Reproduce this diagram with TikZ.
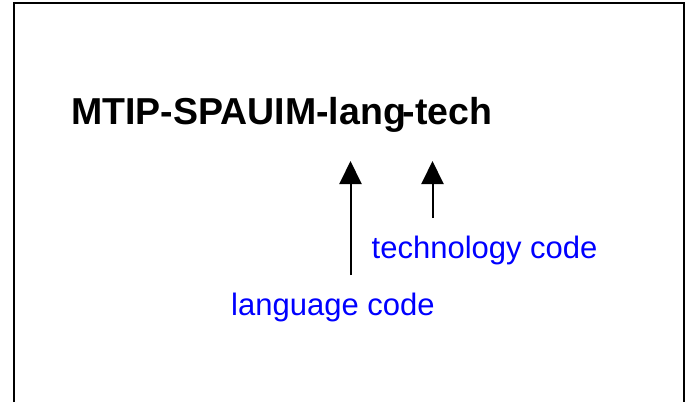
\documentclass[tikz,border=0pt]{standalone}
\usepackage{fontspec}
\setmainfont{Liberation Sans}
\usetikzlibrary{arrows.meta}

\begin{document}
\begin{tikzpicture}[x=1bp, y=-1bp,
    codelabel/.style={blue, anchor=base west, inner sep=0pt, font=\fontsize{31bp}{34bp}\selectfont},
    pointer/.style={line width=2bp, -{Triangle[width=22bp, length=23bp]}}]
    \useasboundingbox (0,0) rectangle (686,402);

    % Frame (open at the bottom)
    \draw[line width=2.5bp] (14,402) -- (14,3) -- (684,3) -- (684,402);

    % Identifier
    \node[anchor=base west, inner sep=0pt, font=\fontsize{37.5bp}{40bp}\selectfont\bfseries] (ident) at (71,124.5) {MTIP-SPAUIM-lang\kern-3bp-tech};

    % Code labels
    \node[codelabel] (techcode) at (371.5,258) {technology code};
    \node[codelabel] (langcode) at (231,315) {language code};

    % Pointers
    \coordinate (langtail) at (350.5,275);
    \coordinate (langtip) at (350.5,161);
    \coordinate (techtail) at (432.5,218);
    \coordinate (techtip) at (432.5,161);
    \draw[pointer] (langtail) -- (langtip);
    \draw[pointer] (techtail) -- (techtip);

\end{tikzpicture}
\end{document}
